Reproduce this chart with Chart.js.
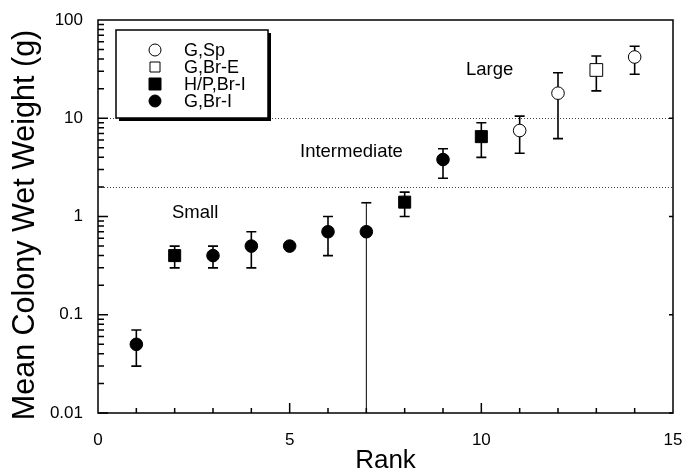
<style>body { margin: 0; }</style>
<canvas id="chart" width="684" height="471"></canvas>
<script src="https://cdn.jsdelivr.net/npm/chart.js"></script>
<script>
const ranks = [1, 2, 3, 4, 5, 6, 7, 8, 9, 10, 11, 12, 13, 14];
const means = [0.05, 0.4, 0.4, 0.5, 0.5, 0.7, 0.7, 1.4, 3.8, 6.5, 7.5, 18, 31, 42];
const errLow = [0.03, 0.3, 0.3, 0.3, null, 0.4, 0.01, 1.0, 2.45, 4.0, 4.4, 6.2, 19, 28];
const errHigh = [0.07, 0.5, 0.5, 0.7, null, 1.0, 1.38, 1.77, 4.9, 9.0, 10.5, 29, 43, 54];
const groupOf = ['G,Br-I', 'H/P,Br-I', 'G,Br-I', 'G,Br-I', 'G,Br-I', 'G,Br-I', 'G,Br-I',
                 'H/P,Br-I', 'G,Br-I', 'H/P,Br-I', 'G,Sp', 'G,Sp', 'G,Br-E', 'G,Sp'];
const groupNames = ['G,Sp', 'G,Br-E', 'H/P,Br-I', 'G,Br-I'];
const yTicks = [0.01, 0.1, 1, 10, 100];
const xTicks = [0, 5, 10, 15];
const boundaries = [10, 2];
const zoneLabels = ['Large', 'Intermediate', 'Small'];
const zoneAt = [[9.6, 31], [5.27, 4.5], [1.93, 1.09]];

const FONT = '"Liberation Sans", Arial, Helvetica, sans-serif';

const styles = {
    'G,Sp':     {pointStyle: 'circle', radius: 6.3, fill: '#fff'},
    'G,Br-E':   {pointStyle: 'rect',   radius: 9,   fill: '#fff'},
    'H/P,Br-I': {pointStyle: 'rect',   radius: 8.5, fill: '#000'},
    'G,Br-I':   {pointStyle: 'circle', radius: 6.3, fill: '#000'},
};

const datasets = groupNames.map(name => {
    const pts = [];
    ranks.forEach((r, i) => {
        if (groupOf[i] === name) pts.push({x: r, y: means[i], lo: errLow[i], hi: errHigh[i]});
    });
    const s = styles[name];
    return {
        label: name,
        data: pts,
        pointStyle: s.pointStyle,
        pointRadius: s.radius,
        backgroundColor: s.fill,
        borderColor: '#000',
        borderWidth: 1,
        showLine: false,
    };
});

// error bars, drawn under the markers
const errorBars = {
    id: 'errorBars',
    beforeDatasetsDraw(chart) {
        const {ctx, scales: {x, y}} = chart;
        ctx.save();
        ctx.strokeStyle = '#000';
        chart.data.datasets.forEach(ds => {
            ds.data.forEach(p => {
                if (p.lo == null) return;
                const px = x.getPixelForValue(p.x);
                const top = y.getPixelForValue(p.hi);
                const bot = y.getPixelForValue(p.lo);
                const long = p.lo <= 0.01;
                ctx.lineWidth = long ? 1 : 1.6;
                ctx.beginPath();
                ctx.moveTo(px, top);
                ctx.lineTo(px, bot);
                ctx.stroke();
                ctx.lineWidth = 1.6;
                ctx.beginPath();
                ctx.moveTo(px - 5, top);
                ctx.lineTo(px + 5, top);
                if (!long) {
                    ctx.moveTo(px - 5, bot);
                    ctx.lineTo(px + 5, bot);
                }
                ctx.stroke();
            });
        });
        ctx.restore();
    }
};

// frame, inward ticks, dotted class boundaries, zone labels, legend
const decor = {
    id: 'decor',
    beforeDatasetsDraw(chart) {
        const {ctx, chartArea: a, scales: {x, y}} = chart;
        ctx.save();
        ctx.strokeStyle = '#444';
        ctx.lineWidth = 1;
        ctx.setLineDash([1, 2]);
        boundaries.forEach(v => {
            const py = Math.round(y.getPixelForValue(v)) + 0.5;
            ctx.beginPath();
            ctx.moveTo(a.left, py);
            ctx.lineTo(a.right, py);
            ctx.stroke();
        });
        ctx.setLineDash([]);

        ctx.fillStyle = '#000';
        ctx.font = '18.5px ' + FONT;
        ctx.textBaseline = 'middle';
        zoneLabels.forEach((t, i) => {
            ctx.fillText(t, x.getPixelForValue(zoneAt[i][0]), y.getPixelForValue(zoneAt[i][1]));
        });
        ctx.restore();
    },
    afterDraw(chart) {
        const {ctx, chartArea: a, scales: {x, y}} = chart;
        ctx.save();
        ctx.strokeStyle = '#000';
        ctx.lineWidth = 1.5;
        ctx.strokeRect(a.left, a.top, a.right - a.left, a.bottom - a.top);

        ctx.beginPath();
        for (let d = 0.01; d < 100; d *= 10) {
            for (let m = 1; m < 10; m++) {
                const py = y.getPixelForValue(d * m);
                const len = m === 1 ? 10 : 6;
                ctx.moveTo(a.left, py);
                ctx.lineTo(a.left + len, py);
                if (m === 1) {
                    ctx.moveTo(a.right, py);
                    ctx.lineTo(a.right - 4, py);
                }
            }
        }
        for (let r = 1; r < 15; r++) {
            const px = x.getPixelForValue(r);
            const len = r % 5 === 0 ? 10 : 5;
            ctx.moveTo(px, a.bottom);
            ctx.lineTo(px, a.bottom - len);
        }
        ctx.stroke();

        // legend box with drop shadow
        const bx = 116, by = 30, bw = 152, bh = 88;
        ctx.fillStyle = '#000';
        ctx.fillRect(bx + 3, by + 3, bw, bh);
        ctx.fillStyle = '#fff';
        ctx.fillRect(bx, by, bw, bh);
        ctx.lineWidth = 1.5;
        ctx.strokeRect(bx, by, bw, bh);

        ctx.font = '18px ' + FONT;
        ctx.textBaseline = 'middle';
        chart.data.datasets.forEach((ds, i) => {
            const cy = by + 20 + i * 17;
            const cx = bx + 39;
            ctx.lineWidth = 1;
            ctx.strokeStyle = '#000';
            ctx.fillStyle = ds.backgroundColor;
            ctx.beginPath();
            if (ds.pointStyle === 'circle') {
                ctx.arc(cx, cy, 6, 0, Math.PI * 2);
            } else {
                const h = ds.backgroundColor === '#fff' ? 5 : 6;
                ctx.rect(cx - h, cy - h, 2 * h, 2 * h);
            }
            ctx.fill();
            ctx.stroke();
            ctx.fillStyle = '#000';
            ctx.fillText(ds.label, bx + 68, cy + 1);
        });
        ctx.restore();
    }
};

new Chart(document.getElementById('chart'), {
    type: 'scatter',
    data: {datasets},
    options: {
        responsive: false,
        animation: false,
        layout: {padding: {top: 20, right: 11, left: 0, bottom: 0}},
        plugins: {legend: {display: false}, tooltip: {enabled: false}},
        scales: {
            x: {
                type: 'linear',
                min: 0,
                max: 15,
                afterBuildTicks: s => { s.ticks = xTicks.map(v => ({value: v})); },
                afterFit: s => { s.height = 58; s.paddingLeft = 0; s.paddingRight = 0; },
                grid: {display: false, drawTicks: false},
                border: {display: false},
                ticks: {color: '#000', padding: 17, maxRotation: 0, font: {family: FONT, size: 17}},
                title: {display: true, text: 'Rank', color: '#000', padding: 0,
                        font: {family: FONT, size: 26, lineHeight: 0.8}}
            },
            y: {
                type: 'logarithmic',
                min: 0.01,
                max: 100,
                afterBuildTicks: s => { s.ticks = yTicks.map(v => ({value: v})); },
                afterFit: s => { s.width = 98; s.paddingTop = 0; s.paddingBottom = 0; },
                grid: {display: false, drawTicks: false},
                border: {display: false},
                ticks: {color: '#000', padding: 15, font: {family: FONT, size: 17},
                        callback: v => String(v)},
                title: {display: true, text: 'Mean Colony Wet Weight (g)  ', color: '#000',
                        padding: {top: 10, bottom: 0}, font: {family: FONT, size: 30.5, lineHeight: 1}}
            }
        }
    },
    plugins: [decor, errorBars]
});
</script>
